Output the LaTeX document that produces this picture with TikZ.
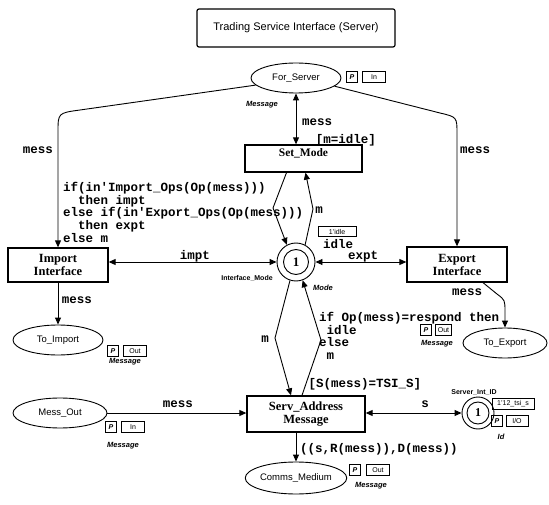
\documentclass[tikz,border=0pt]{standalone}
\usepackage{fontspec}
\setmainfont{Liberation Serif}
\setsansfont{Liberation Sans}
\setmonofont{Liberation Mono}
\usetikzlibrary{arrows.meta,shapes.geometric}
\begin{document}
\begin{tikzpicture}[x=1pt,y=-1pt,
  place/.style={draw,ellipse,line width=0.9pt,inner sep=0pt,font=\sffamily\fontsize{9.5}{10}\selectfont},
  trans/.style={draw,rectangle,line width=1.3pt,inner sep=0pt,align=center,font=\bfseries\fontsize{12.5}{13}\selectfont},
  tname/.style={inner sep=0pt,font=\bfseries\fontsize{11.5}{12}\selectfont},
  ring/.style={draw,circle,line width=0.9pt,inner sep=0pt},
  insc/.style={inner sep=0pt,align=left,font=\ttfamily\bfseries\fontsize{12.5}{12.7}\selectfont},
  colset/.style={inner sep=0pt,font=\sffamily\bfseries\itshape\fontsize{7.5}{8}\selectfont},
  small/.style={inner sep=0pt,font=\sffamily\bfseries\fontsize{7}{7}\selectfont},
  tag/.style={draw,line width=0.8pt,inner sep=0pt,minimum height=11pt,font=\sffamily\fontsize{7}{7}\selectfont},
  ptag/.style={tag,minimum width=11pt,font=\sffamily\bfseries\itshape\fontsize{7}{7}\selectfont},
  arc/.style={line width=0.9pt,-{Triangle[length=7pt,width=6pt]}},
  biarc/.style={line width=0.9pt,{Triangle[length=7pt,width=6pt]}-{Triangle[length=7pt,width=6pt]}},
]
\useasboundingbox (0,0) rectangle (549,505);

% title
\node[draw,line width=1.2pt,rounded corners=2pt,minimum width=198pt,minimum height=38pt,
      font=\sffamily\fontsize{11}{11}\selectfont] (title) at (296,28) {Trading Service Interface (Server)};

% places
\node[place,minimum width=90pt,minimum height=30pt] (fs) at (296,78) {For\_Server};
\node[place,minimum width=90pt,minimum height=30pt] (ti) at (58,340) {To\_Import};
\node[place,minimum width=84pt,minimum height=30pt] (te) at (505,343) {To\_Export};
\node[place,minimum width=94pt,minimum height=30pt] (mo) at (60,413) {Mess\_Out};
\node[place,minimum width=95pt,minimum height=32pt] (cm) at (296,478) {Comms\_Medium};

\node[ring,minimum size=38pt] (im) at (296,262) {};
\node[ring,minimum size=25pt,font=\bfseries\fontsize{13}{13}\selectfont] (imin) at (im) {1};
\node[ring,minimum size=32pt] (sid) at (478,413) {};
\node[ring,minimum size=22pt,font=\bfseries\fontsize{12}{12}\selectfont] (sidin) at (sid) {1};

% transitions
\node[trans,minimum width=117pt,minimum height=27pt] (sm) at (303.5,158.5) {};
\node[tname,below=4pt] (smname) at (sm.north) {Set\_Mode};
\node[trans,minimum width=100pt,minimum height=34pt] (imp) at (58,265) {Import\\Interface};
\node[trans,minimum width=100pt,minimum height=35pt] (expi) at (457,264.5) {Export\\Interface};
\node[trans,minimum width=118pt,minimum height=36pt] (sa) at (306,414) {Serv\_Address\\Message};

% port tags, colour sets and markings
\node[ptag] (fsp) at (352,77) {P};
\node[tag,minimum width=23pt] (fsk) at (374,77) {In};
\node[colset] (fsc) at (262,105) {Message};

\node[ptag] (tip) at (113,351) {P};
\node[tag,minimum width=23pt] (tik) at (135,351) {Out};
\node[colset] (tic) at (125,362) {Message};

\node[ptag] (tep) at (426,330) {P};
\node[tag,minimum width=16pt] (tek) at (443.5,330) {Out};
\node[colset] (tec) at (437,344) {Message};

\node[ptag] (mop) at (111,427) {P};
\node[tag,minimum width=23pt] (mok) at (133,427) {In};
\node[colset] (moc) at (123,446) {Message};

\node[ptag] (cmp) at (355,470) {P};
\node[tag,minimum width=23pt] (cmk) at (378,470) {Out};
\node[colset] (cmc) at (371,486) {Message};

\node[small] (imname) at (247,278) {Interface\_Mode};
\node[colset] (imc) at (323,288) {Mode};
\node[tag,minimum width=38pt,minimum height=10pt] (imm) at (337,231.5) {1'idle};
\node[insc] (iminit) at (338,244) {idle};

\node[small] (sidname) at (474,392) {Server\_Int\_ID};
\node[tag,minimum width=42pt] (sidm) at (513,404) {1'12\_tsi\_s};
\node[ptag] (sidp) at (497,421) {P};
\node[tag,minimum width=22pt] (sidk) at (517,421) {I/O};
\node[colset] (sidc) at (501,437) {Id};

% arcs
\draw[biarc] (fs.south) -- (fs.south |- sm.north);
\draw[arc] (fs.190) -- (80,110) .. controls (58,113) .. (58,132) -- (imp.north);
\draw[arc] (fs.-12) -- (440,113) .. controls (457,117) .. (457,134) -- (expi.north);
\draw[arc] ([xshift=-17pt]sm.south) -- (273,208) -- (im.118);
\draw[arc] (im.62) -- (313,209) -- ([xshift=2pt]sm.south);
\draw[biarc] (imp.east |- im.west) -- (im.west);
\draw[biarc] (im.east) -- (im.east -| expi.west);
\draw[arc] (im.-108) -- (275,338) -- ([xshift=-15pt]sa.north);
\draw[arc] ([xshift=-4pt]sa.north) -- (321,340) -- (im.-70);
\draw[arc] (imp.south) -- (ti.north);
\draw[arc] ([xshift=26pt]expi.south) -- (497,294) .. controls (505,300) .. (505,312) -- (te.north);
\draw[arc] (mo.east) -- (mo.east -| sa.west);
\draw[biarc] (sid.west -| sa.east) -- (sid.west);
\draw[arc] (sa.south -| cm.north) -- (cm.north);

% arc inscriptions
\node[insc,anchor=west] (l1) at (302,122) {mess};
\node[insc] (g1) at (346,140) {[m=idle]};
\node[insc] (l2) at (38,150) {mess};
\node[insc,anchor=north west] (l3) at (63,182)
  {if(in'Import\_Ops(Op(mess)))\\\phantom{xx}then impt\\else if(in'Export\_Ops(Op(mess)))\\\phantom{xx}then expt\\else m};
\node[insc] (l4) at (319,210) {m};
\node[insc] (l5) at (195,256) {impt};
\node[insc] (l6) at (363,257) {expt};
\node[insc,anchor=west] (l7) at (460,150) {mess};
\node[insc] (l8) at (77,300) {mess};
\node[insc] (l9) at (467,292) {mess};
\node[insc] (l10) at (265,339) {m};
\node[insc,anchor=north west] (l11) at (319,312)
  {if Op(mess)=respond then\\\phantom{x}idle\\else\\\phantom{x}m};
\node[insc] (g2) at (365,384) {[S(mess)=TSI\_S]};
\node[insc] (l12) at (425,404) {s};
\node[insc] (l13) at (178,404) {mess};
\node[insc,anchor=west] (l14) at (300,449) {((s,R(mess)),D(mess))};
\end{tikzpicture}
\end{document}
